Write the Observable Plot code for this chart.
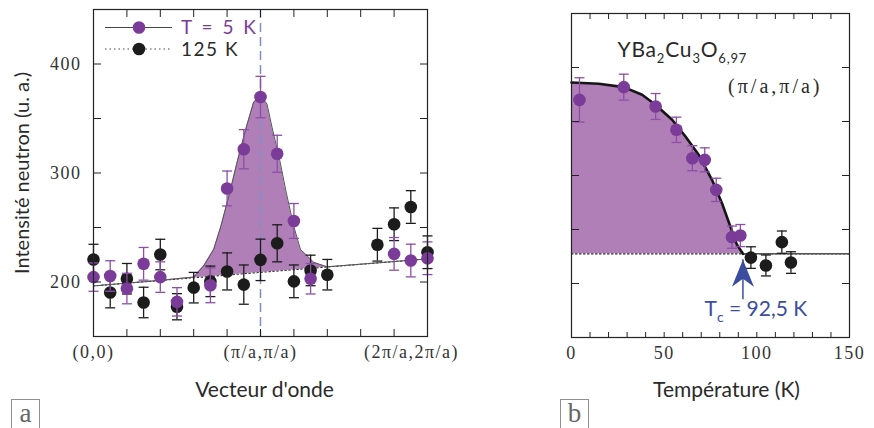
<!DOCTYPE html>
<html><head><meta charset="utf-8">
<script src="https://cdn.jsdelivr.net/npm/d3@7"></script>
<script src="https://cdn.jsdelivr.net/npm/@observablehq/plot@0.6"></script>
<style>
html,body{margin:0;padding:0;background:#fff;}
#chart{position:relative;width:874px;height:428px;overflow:hidden;background:#fff;}
#chart svg{position:absolute;top:0;overflow:visible;}
.box{position:absolute;border:1px solid #8f8f8f;width:29px;height:32px;box-sizing:border-box;font-family:"Liberation Serif",serif;font-size:27px;color:#666;text-align:center;line-height:26px;}
g[aria-label="x-axis tick label"] text, g[aria-label="y-axis tick label"] text{letter-spacing:1.5px;}
</style></head><body><div id="chart"></div>
<script>
// ---------- Panel a : intensity vs wave vector ----------
const yTicks = [200, 250, 300, 350, 400];
const yLabelTicks = [200, 300, 400];
const xTicksA = [0, 0.2, 0.4, 0.6, 0.8, 1, 1.2, 1.4, 1.6, 1.8, 2];
const xLabelTicksA = [0, 1, 2];
const xTickLabelsA = ["(0,0)", "(π/a,π/a)", "(2π/a,2π/a)"];
const piOverA = [1];

const x5 = [0, 0.1, 0.2, 0.3, 0.4, 0.5, 0.7, 0.8, 0.9, 1.0, 1.1, 1.2, 1.3, 1.8, 1.9, 2.0];
const y5 = [204.5, 205.5, 194, 216.7, 204.5, 181.8, 197, 285.8, 321.8, 369.7, 317.6, 256, 203, 225.8, 219.7, 221.8];
const e5 = [13, 14, 14, 15, 14, 13, 16, 16, 18, 19, 17, 16, 14, 15, 15, 15];

const x125 = [0, 0.1, 0.2, 0.3, 0.4, 0.5, 0.6, 0.7, 0.8, 0.9, 1.0, 1.1, 1.2, 1.3, 1.4, 1.7, 1.8, 1.9, 2.0];
const y125 = [220.6, 190.3, 203, 181.2, 225.2, 177.3, 194.8, 200.6, 209.7, 197.6, 220.3, 235.5, 200.6, 210.6, 206.7, 234.2, 253, 268.8, 227.3];
const e125 = [14, 14, 14, 14, 14, 12, 14, 14, 17, 18, 19, 17, 15, 14, 14, 15, 15, 15, 15];

const fit5X = [0, 0.4, 0.6, 0.66, 0.72, 0.763, 0.815, 0.863, 0.915, 0.959, 1.0, 1.039, 1.069, 1.115, 1.155, 1.199, 1.239, 1.319, 1.4, 2.0];
const fit5Y = [196.4, 201.5, 204.5, 214.8, 230, 251.2, 281.5, 311.8, 342, 364.9, 371, 363.3, 342, 311.8, 281.5, 251.2, 230, 218, 213.9, 221.2];
const base125X = [0, 2];
const base125Y = [196.4, 221.2];

// ---------- Panel b : intensity at (π/a,π/a) vs temperature ----------
const xTicksB = [0,10,20,30,40,50,60,70,80,90,100,110,120,130,140,150];
const xLabelTicksB = [0, 50, 100, 150];
const Tp = [4.3, 28.2, 45.4, 56.6, 65.2, 71.9, 78.1, 86.6, 91.1];
const vp = [370, 381.8, 363.9, 342.3, 316, 314.5, 286.7, 242.9, 244.4];
const ep = [20.5, 12, 12, 11.7, 11.6, 11.1, 10.8, 10.3, 10.2];
const Tb = [96.8, 104.9, 113.5, 118.4];
const vb = [224, 216.7, 238.3, 219.4];
const eb = [10, 9.7, 10.3, 10];
const fitT = [0, 14.7, 28.2, 38.1, 45.3, 54.3, 61.5, 68.6, 75.8, 81.2, 85.7, 89.3, 92.5];
const fitV = [386.1, 384.9, 381.8, 374.7, 365.5, 351.6, 336.1, 319.2, 296, 274.4, 252.8, 235.8, 227.5];
const baseBT = [0, 150];
const baseBV = [227.5, 227.5];
const Tc = 92.5;
const tcArrow = [{T: 92.5, from: 185, to: 222}];

// ---------- texts ----------
const yTitle = "Intensité neutron (u. a.)";
const xTitleA = "Vecteur d'onde";
const xTitleB = "Température (K)";
const legend5 = "T = 5 K";
const legend125 = "125 K";
const formula = "YBa2Cu3O6,97";
const qLabel = "(π/a,π/a)";
const tcLabel = "Tc = 92,5 K";

// ---------- styles ----------
const purple = "#7b3b98", errPurple = "#8d4ea8", fillPurple = "#b07fb8";
const black = "#1c1c1c", blueDash = "#7f90c8", blueArrow = "#3b4d9e", txt = "#2a2a2a";
const sans = "Lato, 'Open Sans', sans-serif", serif = "'Liberation Serif', serif";

const capSymbol = {draw(ctx) { ctx.moveTo(-5, 0); ctx.lineTo(5, 0); }};
const stealth = {draw(ctx) { ctx.moveTo(0, 0); ctx.lineTo(11, 27); ctx.lineTo(0, 19); ctx.lineTo(-11, 27); ctx.closePath(); }};

const zip = (xs, ys, es) => xs.map((x, i) => ({x, y: ys[i], e: es ? es[i] : 0}));
const d5 = zip(x5, y5, e5), d125 = zip(x125, y125, e125);
const fit5 = zip(fit5X, fit5Y), base125 = zip(base125X, base125Y);
const dP = zip(Tp, vp, ep), dB = zip(Tb, vb, eb);
const fitB = zip(fitT, fitV), baseB = zip(baseBT, baseBV);

function errMarks(data, color) {
  return [
    Plot.ruleX(data, {x: "x", y1: d => d.y - d.e, y2: d => d.y + d.e, stroke: color, strokeWidth: 1.3}),
    Plot.dot(data, {x: "x", y: d => d.y - d.e, symbol: capSymbol, stroke: color, fill: "none", strokeWidth: 1.3}),
    Plot.dot(data, {x: "x", y: d => d.y + d.e, symbol: capSymbol, stroke: color, fill: "none", strokeWidth: 1.3})
  ];
}
const labA = new Map(xLabelTicksA.map((t, i) => [t, xTickLabelsA[i]]));

const left = Plot.plot({
  width: 520, height: 428,
  marginLeft: 93, marginRight: 93, marginTop: 9, marginBottom: 92,
  x: {domain: [0, 2]},
  y: {domain: [150, 450]},
  style: {background: "transparent", overflow: "visible"},
  marks: [
    Plot.areaY(fit5, {x: "x", y: "y", fill: fillPurple, clip: true}),
    Plot.areaY(base125, {x: "x", y: "y", fill: "white", clip: true}),
    Plot.ruleX(piOverA, {stroke: blueDash, strokeWidth: 1.5, strokeDasharray: "9,5"}),
    Plot.line(base125, {x: "x", y: "y", stroke: "#333", strokeWidth: 1.1, strokeDasharray: "1.5,2.5"}),
    Plot.line(fit5, {x: "x", y: "y", stroke: "#555", strokeWidth: 1}),
    ...errMarks(d125, black),
    Plot.dot(d125, {x: "x", y: "y", r: 6.3, fill: black}),
    ...errMarks(d5, errPurple),
    Plot.dot(d5, {x: "x", y: "y", r: 6.3, fill: purple}),
    Plot.frame({stroke: "#222", strokeWidth: 1.2}),
    Plot.axisY({ticks: yTicks, anchor: "left", tickSize: -8, tickFormat: () => "", label: null, stroke: "#222"}),
    Plot.axisY({ticks: yTicks, anchor: "right", tickSize: -8, tickFormat: () => "", label: null, stroke: "#222"}),
    Plot.axisY({ticks: yLabelTicks, anchor: "left", tickSize: 0, tickPadding: 12, label: null, fontSize: 18, fontFamily: serif, fill: "#333"}),
    Plot.axisX({ticks: xTicksA, anchor: "bottom", tickSize: -7, tickFormat: () => "", label: null, stroke: "#222"}),
    Plot.axisX({ticks: xTicksA, anchor: "top", tickSize: -7, tickFormat: () => "", label: null, stroke: "#222"}),
    Plot.axisX({ticks: xLabelTicksA, anchor: "bottom", tickSize: 0, tickPadding: 9, tickFormat: d => labA.get(d), label: null, fontSize: 18, fontFamily: serif, fill: "#333"}),
    Plot.text([yTitle], {text: d => d, frameAnchor: "left", dx: -71, rotate: -90, textAnchor: "middle", lineAnchor: "middle", fontSize: 20, fontFamily: sans, fill: txt}),
    Plot.text([xTitleA], {text: d => d, frameAnchor: "bottom", dy: 54, dx: 4, textAnchor: "middle", lineAnchor: "middle", fontSize: 21, fontFamily: sans, fill: txt})
  ]
});
left.style.left = "0px";

const right = Plot.plot({
  width: 354, height: 428,
  marginLeft: 51, marginRight: 25, marginTop: 13, marginBottom: 91,
  x: {domain: [0, 150]},
  y: {domain: [150, 450]},
  style: {background: "transparent", overflow: "visible"},
  marks: [
    Plot.areaY(fitB, {x: "x", y: "y", fill: fillPurple, clip: true}),
    Plot.areaY(baseB, {x: "x", y: "y", fill: "white", clip: true}),
    Plot.line(baseB, {x: "x", y: "y", stroke: "#222", strokeWidth: 1.2, strokeDasharray: "1.5,2.5"}),
    Plot.ruleY(baseBV.slice(0, 1), {x1: Tc, x2: 150, stroke: "#555", strokeWidth: 1.6}),
    Plot.line(fitB, {x: "x", y: "y", stroke: "#151515", strokeWidth: 2.6}),
    ...errMarks(dB, black),
    Plot.dot(dB, {x: "x", y: "y", r: 6.3, fill: black}),
    ...errMarks(dP, errPurple),
    Plot.dot(dP, {x: "x", y: "y", r: 6.3, fill: purple}),
    Plot.ruleX(tcArrow, {x: "T", y1: "from", y2: "to", stroke: blueArrow, strokeWidth: 1.5}),
    Plot.dot(tcArrow, {x: "T", y: "to", symbol: stealth, fill: blueArrow}),
    Plot.text([formula], {text: d => d, frameAnchor: "top-left", dx: 46, dy: 37, textAnchor: "start", lineAnchor: "middle", fontSize: 21, fontFamily: sans, fill: txt}),
    Plot.text([qLabel], {text: d => d, frameAnchor: "top-right", dx: -27, dy: 73, textAnchor: "end", lineAnchor: "middle", fontSize: 20, fontFamily: serif, fill: txt}),
    Plot.text([tcLabel], {text: d => d, frameAnchor: "top-left", dx: 133, dy: 296, textAnchor: "start", lineAnchor: "middle", fontSize: 21, fontFamily: sans, fill: blueArrow}),
    Plot.frame({stroke: "#222", strokeWidth: 1.2}),
    Plot.axisY({ticks: yTicks, anchor: "left", tickSize: -8, tickFormat: () => "", label: null, stroke: "#222"}),
    Plot.axisY({ticks: yTicks, anchor: "right", tickSize: -8, tickFormat: () => "", label: null, stroke: "#222"}),
    Plot.axisX({ticks: xTicksB, anchor: "bottom", tickSize: -5, tickFormat: () => "", label: null, stroke: "#222"}),
    Plot.axisX({ticks: xTicksB, anchor: "top", tickSize: -5, tickFormat: () => "", label: null, stroke: "#222"}),
    Plot.axisX({ticks: xLabelTicksB, anchor: "bottom", tickSize: 0, tickPadding: 9, label: null, fontSize: 18, fontFamily: serif, fill: "#333"}),
    Plot.text([xTitleB], {text: d => d, frameAnchor: "bottom", dy: 53, dx: 16, textAnchor: "middle", lineAnchor: "middle", fontSize: 21, fontFamily: sans, fill: txt})
  ]
});
right.style.left = "520px";

const chart = document.getElementById("chart");
chart.appendChild(left);
chart.appendChild(right);

// subscripts (text stays real text)
function subscript(svg, full, parts, shift, size) {
  d3.select(svg).selectAll("text").filter(function () { return this.textContent === full; }).each(function () {
    const t = d3.select(this); t.text(null);
    let down = false;
    parts.forEach(([s, isSub]) => {
      const ts = t.append("tspan").text(s);
      if (isSub) { ts.attr("font-size", size); if (!down) { ts.attr("dy", shift); down = true; } }
      else if (down) { ts.attr("dy", -shift); down = false; }
    });
  });
}
d3.select(right).selectAll("text").filter(function () { return this.textContent === qLabel; }).style("letter-spacing", "3px");
d3.select(right).selectAll("text").filter(function () { return this.textContent === formula; }).style("letter-spacing", "0.8px");
// last wave-vector label sits a little left of its tick, as in the original
d3.select(left).selectAll("text").filter(function () { return this.textContent === xTickLabelsA[2]; }).attr("dx", -16);
subscript(right, formula, [["YBa", 0], ["2", 1], ["Cu", 0], ["3", 1], ["O", 0], ["6,97", 1]], 6, 13);
subscript(right, tcLabel, [["T", 0], ["c", 1], [" = 92,5 K", 0]], 6, 14);

// legend (panel a)
const lg = d3.select(left).append("g").attr("text-anchor", "start").attr("font-family", sans).attr("font-size", 19);
lg.append("line").attr("x1", 105).attr("x2", 172).attr("y1", 27.5).attr("y2", 27.5).attr("stroke", "#444").attr("stroke-width", 1.2);
lg.append("circle").attr("cx", 139).attr("cy", 27.5).attr("r", 6.3).attr("fill", purple);
lg.append("text").attr("x", 181).attr("y", 27.5).attr("dy", "0.35em").attr("fill", purple).style("letter-spacing", "2.5px").text(legend5);
lg.append("line").attr("x1", 105).attr("x2", 172).attr("y1", 49).attr("y2", 49).attr("stroke", "#444").attr("stroke-width", 1.2).attr("stroke-dasharray", "1.5,3");
lg.append("circle").attr("cx", 139).attr("cy", 49).attr("r", 6.3).attr("fill", black);
lg.append("text").attr("x", 181).attr("y", 49).attr("dy", "0.35em").attr("fill", txt).style("letter-spacing", "1.5px").text(legend125);

// panel letters
for (const [letter, x] of [["a", 11], ["b", 560]]) {
  const b = document.createElement("div");
  b.className = "box"; b.style.left = x + "px"; b.style.top = "399px"; b.textContent = letter;
  chart.appendChild(b);
}
</script></body></html>
